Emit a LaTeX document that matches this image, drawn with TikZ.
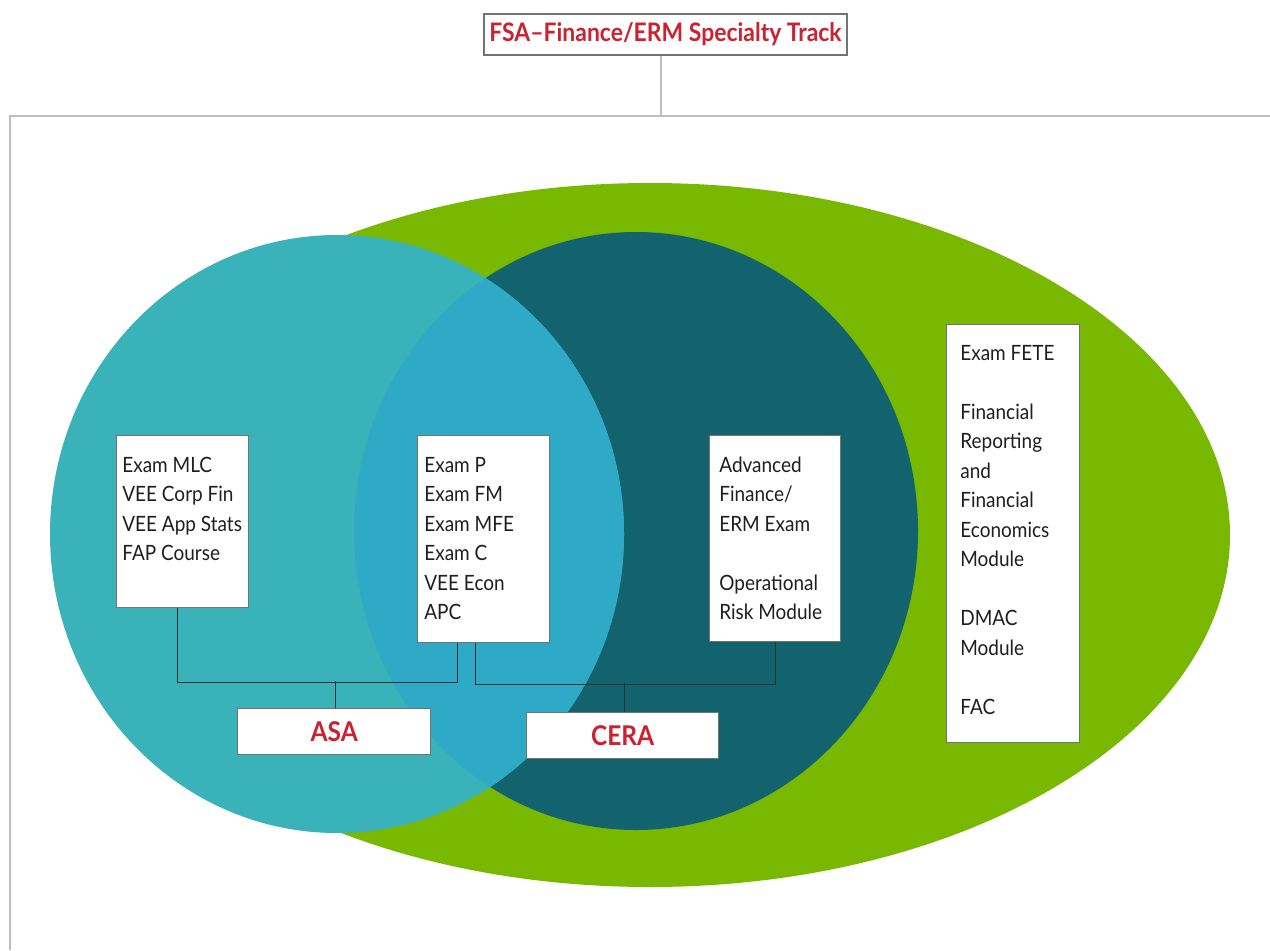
\documentclass[tikz,border=0pt]{standalone}
\usepackage{fontspec}
\setmainfont{Lato}
\newfontfamily\narrowlato[FakeStretch=0.9,Ligatures=TeX]{Lato}

\definecolor{ermgreen}{RGB}{120,184,0}
\definecolor{asateal}{RGB}{58,178,186}
\definecolor{ceradark}{RGB}{18,99,110}
\definecolor{bothblue}{RGB}{46,170,198}
\definecolor{ermred}{RGB}{204,33,48}
\definecolor{boxgray}{RGB}{115,115,115}
\definecolor{wiregray}{RGB}{40,50,55}
\definecolor{framegray}{RGB}{190,190,190}

% outlines of the ASA and CERA discs
\def\asadisc{(337,534) ellipse [x radius=287, y radius=299]}
\def\ceradisc{(636,531) ellipse [x radius=282, y radius=299]}

\begin{document}
\begin{tikzpicture}[x=0.02cm, y=-0.02cm,
                    list box/.style={rectangle, draw=boxgray, fill=white,
                                     line width=0.8pt, anchor=north west, inner sep=0pt},
                    badge/.style={list box, text=ermred,
                                  font=\narrowlato\fontsize{15.5}{18}\selectfont\bfseries},
                    list/.style={anchor=north west, align=left, inner sep=0pt,
                                 text=black!88, font=\narrowlato\fontsize{12}{16.8}\selectfont},
                    wire/.style={draw=wiregray, line width=0.6pt}]

  \useasboundingbox (0,0) rectangle (1270,950);

  % frame and track title
  \draw[framegray, line width=1.2pt] (1270,116) -- (10,116) -- (10,950);
  \node[list box, anchor=center, minimum width=7.26cm, minimum height=0.82cm,
        text=ermred, font=\narrowlato\fontsize{14.5}{16}\selectfont\bfseries]
        (track) at (665.5,34.5) {FSA–Finance/ERM Specialty Track};
  \draw[framegray, line width=0.6pt] ([xshift=-0.09cm]track.south) -- ++(0,61);

  % the three regions
  \fill[ermgreen] (650,535) ellipse [x radius=580, y radius=352];
  \fill[ceradark] \ceradisc;
  \fill[asateal] \asadisc;
  \begin{scope}
    \clip \ceradisc;
    \fill[bothblue] \asadisc;
  \end{scope}

  % exam lists
  \node[list box, minimum width=2.64cm, minimum height=3.44cm] (mlc) at (116,435) {};
  \node[list] (mlc list) at ([shift={(6,16)}]mlc.north west)
    {\strut Exam MLC\\VEE Corp Fin\\VEE App Stats\\FAP Course};

  \node[list box, minimum width=2.64cm, minimum height=4.14cm] (core) at (417,435) {};
  \node[list] (core list) at ([shift={(7,16)}]core.north west)
    {\strut Exam P\\Exam FM\\Exam MFE\\Exam C\\VEE Econ\\APC};

  \node[list box, minimum width=2.62cm, minimum height=4.12cm] (adv) at (709,435) {};
  \node[list] (adv list) at ([shift={(10,16)}]adv.north west)
    {\strut Advanced\\Finance/\\ERM Exam\\[16.8pt]Operational\\Risk Module};

  \node[list box, minimum width=2.66cm, minimum height=8.36cm] (fete) at (946,324) {};
  \node[list] (fete list) at ([shift={(14,15)}]fete.north west)
    {\strut Exam FETE\\[16.8pt]Financial\\Reporting\\and\\Financial\\Economics\\Module\\[16.8pt]DMAC\\Module\\[16.8pt]FAC};

  % designations
  \node[badge, minimum width=3.86cm, minimum height=0.92cm] (asa) at (237,708) {ASA};
  \node[badge, minimum width=3.84cm, minimum height=0.92cm] (cera) at (526,712) {CERA};

  \draw[wire] ([xshift=-0.1cm]mlc.south) -- ++(0,74) -| ([xshift=-0.52cm]core.south);
  \draw[wire] ([xshift=0.03cm]asa.north) -- ++(0,-27);
  \draw[wire] ([xshift=-0.16cm]core.south) -- ++(0,41) -| (adv.south);
  \draw[wire] ([xshift=0.04cm]cera.north) -- ++(0,-29);
\end{tikzpicture}
\end{document}
